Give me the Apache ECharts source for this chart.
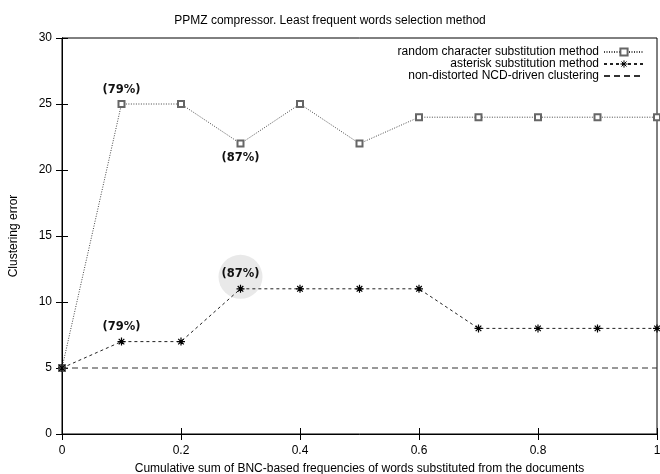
<!DOCTYPE html>
<html><head><meta charset="utf-8">
<script src="https://cdn.jsdelivr.net/npm/echarts@6/dist/echarts.min.js"></script>
<style>html,body{margin:0;padding:0;background:#fff}#c{width:660px;height:474px}</style>
</head><body><div id="c"></div>
<script>
const xValues = [0, 0.1, 0.2, 0.3, 0.4, 0.5, 0.6, 0.7, 0.8, 0.9, 1.0];
const randomSub = [5, 25, 25, 22, 25, 22, 24, 24, 24, 24, 24];
const asteriskSub = [5, 7, 7, 11, 11, 11, 11, 8, 8, 8, 8];
const baseline = [5, 5];
const baselineX = [0, 1];
const randomNotes = {1: ['(79%)', 'top'], 3: ['(87%)', 'bottom']};
const asteriskNotes = {1: ['(79%)', 'top'], 3: ['(87%)', 'top']};
const highlight = [[0.3, 11]];

const font = 'Liberation Sans, Arial, sans-serif';
const noteLabel = (txt, pos) => ({show: true, formatter: txt, position: pos, distance: 4,
  fontFamily: 'DejaVu Sans, sans-serif', fontWeight: 'bold', fontSize: 11.5, color: '#111'});
const mk = (vals, notes) => vals.map((v, i) => {
  const d = {value: [xValues[i], v]};
  if (notes[i]) d.label = noteLabel(notes[i][0], notes[i][1]);
  return d;
});
const asteriskPath = 'path://M0,5L10,5M5,0L5,10M1.5,1.5L8.5,8.5M8.5,1.5L1.5,8.5';
const names = ['random character substitution method', 'asterisk substitution method', 'non-distorted NCD-driven clustering'];

const chart = echarts.init(document.getElementById('c'));
chart.setOption({
  animation: false,
  title: {text: 'PPMZ compressor. Least frequent words selection method', left: 'center', top: 10,
    textStyle: {fontFamily: font, fontSize: 12, fontWeight: 'normal', color: '#000'}},
  grid: {left: 62, right: 3, top: 38, bottom: 40, show: true, borderColor: '#000', borderWidth: 1,
    outerBoundsMode: 'none', containLabel: false},
  legend: {right: 10, top: 41, orient: 'vertical', align: 'right', itemGap: 0, itemWidth: 40, itemHeight: 9,
    textStyle: {fontFamily: font, fontSize: 12, color: '#000'},
    data: [{name: names[0], itemStyle: {borderWidth: 1}},
           {name: names[1], itemStyle: {color: '#000', borderColor: '#000', borderWidth: 1}},
           {name: names[2], itemStyle: {opacity: 0}}]},
  xAxis: [{type: 'value', min: 0, max: 1, interval: 0.2, position: 'bottom',
    name: 'Cumulative sum of BNC-based frequencies of words substituted from the documents',
    nameLocation: 'middle', nameGap: 29, nameTextStyle: {fontFamily: font, fontSize: 12, color: '#000'},
    axisLine: {show: true, lineStyle: {color: '#000'}},
    axisTick: {show: true, inside: true, length: 6, lineStyle: {color: '#000'}},
    axisLabel: {fontFamily: font, fontSize: 12, color: '#000', margin: 11, formatter: v => String(+v.toFixed(1))},
    splitLine: {show: false}},
   {type: 'value', min: 0, max: 1, interval: 0.2, position: 'top',
    axisLine: {show: false}, axisTick: {show: true, inside: true, length: 6, lineStyle: {color: '#000'}},
    axisLabel: {show: false}, splitLine: {show: false}}],
  yAxis: [{type: 'value', min: 0, max: 30, interval: 5, name: 'Clustering error', nameLocation: 'middle', nameGap: 42,
    nameTextStyle: {fontFamily: font, fontSize: 12, color: '#000'},
    axisLine: {show: true, lineStyle: {color: '#000'}},
    axisTick: {show: true, inside: true, length: 6, lineStyle: {color: '#000'}},
    axisLabel: {fontFamily: font, fontSize: 12, color: '#000', margin: 10},
    splitLine: {show: false}},
   {type: 'value', min: 0, max: 30, interval: 5, position: 'right',
    axisLine: {show: true, lineStyle: {color: '#000'}}, axisTick: {show: true, inside: true, length: 6, lineStyle: {color: '#000'}},
    axisLabel: {show: false}, splitLine: {show: false}}],
  series: [
    {type: 'scatter', data: highlight, symbol: 'circle', symbolSize: 44, symbolOffset: [0, -12], z: 1,
      itemStyle: {color: '#e3e3e3'}, silent: true, legendHoverLink: false},
    {name: names[0], type: 'line', data: mk(randomSub, randomNotes), z: 3,
      symbol: 'emptyRect', symbolSize: 6, showAllSymbol: true,
      lineStyle: {color: '#444', width: 1, type: [1, 1.5]},
      itemStyle: {color: '#666', borderWidth: 1}},
    {name: names[1], type: 'line', data: mk(asteriskSub, asteriskNotes), z: 3,
      symbol: asteriskPath, symbolSize: 8, showAllSymbol: true,
      lineStyle: {color: '#222', width: 1, type: [3, 3]},
      itemStyle: {color: '#000', borderColor: '#000', borderWidth: 1.2}},
    {name: names[2], type: 'line', data: baselineX.map((x, i) => [x, baseline[i]]), z: 2,
      symbol: 'none', lineStyle: {color: '#333', width: 1, type: [6, 4]}, itemStyle: {color: '#333'}}
  ]
});
</script></body></html>
